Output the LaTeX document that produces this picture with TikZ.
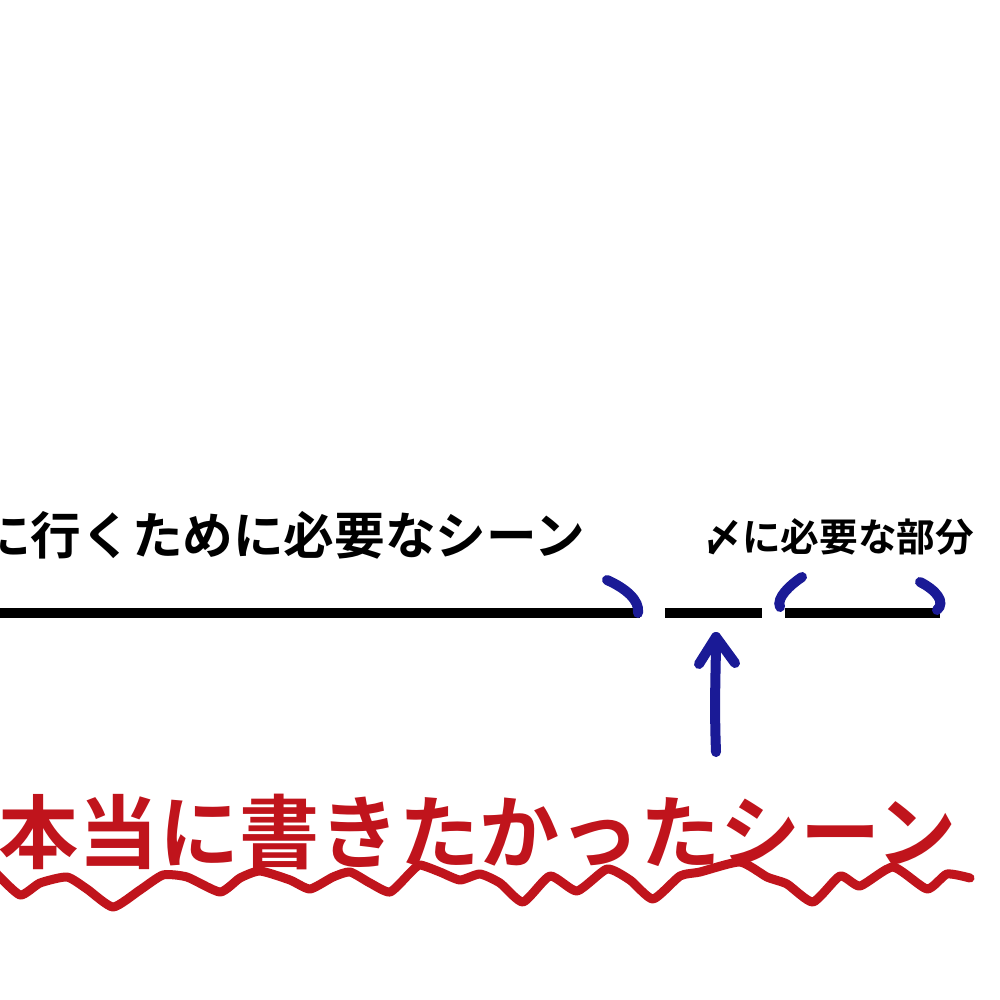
\documentclass[tikz,border=0pt]{standalone}
\usepackage{fontspec}
\newfontfamily\jpfont[BoldFont={Noto Sans CJK JP Bold}]{Noto Sans CJK JP}
\usetikzlibrary{arrows.meta}
\definecolor{penblue}{HTML}{1A1A96}
\definecolor{penred}{HTML}{C0141C}
\tikzset{
  px/.style={x=0.01cm,y=-0.01cm},
  timeline/.style={line width=0.1cm, black},
  bracket/.style={line width=0.1cm, penblue, line cap=round},
  wave/.style={line width=0.09cm, penred, line cap=round, line join=round},
  label/.style={inner sep=0pt},
}
\begin{document}
\begin{tikzpicture}[px]
\useasboundingbox (0,0) rectangle (1000,1000);
\fill[white] (0,0) rectangle (1000,1000);
\clip (0,0) rectangle (1000,1000);
% texts
\node[label, anchor=east, font=\jpfont\bfseries\fontsize{14.4pt}{16pt}\selectfont] (t1) at (586,535) {に行くために必要なシーン};
\node[label, anchor=east, font=\jpfont\bfseries\fontsize{11pt}{13pt}\selectfont] (t2) at (975,537) {〆に必要な部分};
\node[label, anchor=west, text=penred, font=\jpfont\bfseries\fontsize{22.8pt}{25pt}\selectfont] (t3) at (-2,832) {本当に書きたかったシーン};
% timeline segments
\coordinate (a1) at (-10,613); \coordinate (a2) at (640,613);
\coordinate (b1) at (665,613); \coordinate (b2) at (762,613);
\coordinate (c1) at (785,613); \coordinate (c2) at (940,613);
\draw[timeline] (a1) -- (a2);
\draw[timeline] (b1) -- (b2);
\draw[timeline] (c1) -- (c2);
% blue bracket marks
\draw[bracket] (607,580) .. controls (625,588) and (640,600) .. (638,613);
\draw[bracket] (802,577) .. controls (790,585) and (776,598) .. (780,607);
\draw[bracket] (920,582) .. controls (936,590) and (946,602) .. (937,610);
% arrow
\coordinate (arrS) at (716,752);
\coordinate (arrE) at (716,637);
\draw[line width=0.1cm, penblue, line cap=round, line join=round] (arrS) .. controls (714,700) and (716,670) .. (arrE);
\draw[line width=0.1cm, penblue, line cap=round, line join=round] (699,664) -- (arrE) -- (735,663);
% red wave
\draw[wave] plot[smooth, tension=0.35] coordinates {
(-5,872) (20,895) (40,883) (67,877) (87,889) (113,907) (140,890) (163,875) (187,877) (220,892) (240,878) (260,871) (290,880) (310,889) (333,877) (350,872) (370,883) (390,892) (410,873) (420,865) (440,872) (460,880) (480,874) (500,883) (523,902) (550,876) (577,891) (607,869) (630,880) (653,899) (680,876) (700,872) (740,862) (767,877) (787,884) (813,902) (840,876) (860,886) (893,867) (927,889) (947,874) (970,878)};
\end{tikzpicture}
\end{document}
